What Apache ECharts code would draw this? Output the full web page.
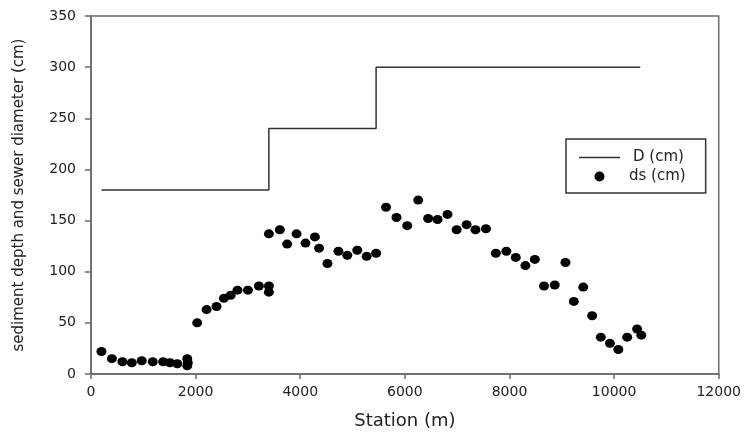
<!DOCTYPE html>
<html>
<head>
<meta charset="utf-8">
<script src="https://cdn.jsdelivr.net/npm/echarts@6/dist/echarts.min.js"></script>
<style>html,body{margin:0;padding:0;background:#fff}#c{width:744px;height:435px}</style>
</head>
<body>
<div id="c"></div>
<script>
// Sewer diameter D (step line)
var dStations = [200, 3400, 3400, 5450, 5450, 10500];
var dValues   = [180, 180, 240, 240, 300, 300];

// Sediment depth ds (points)
var dsStations = [200, 400, 600, 780, 970, 1180, 1380, 1510, 1650, 1840, 1850, 1840,
  2030, 2210, 2400, 2540, 2670, 2800, 3000, 3210, 3400, 3400, 3400,
  3610, 3750, 3930, 4100, 4280, 4360, 4520, 4730, 4900, 5090, 5270, 5450,
  5640, 5840, 6045, 6255, 6445, 6625, 6815, 6990, 7180, 7350, 7550,
  7740, 7940, 8120, 8305, 8485, 8660, 8865, 9070, 9230, 9410, 9580,
  9745, 9920, 10080, 10250, 10440, 10520];
var dsValues = [22, 15, 12, 11, 13, 12, 12, 11, 10, 15, 11, 8,
  50, 63, 66, 74, 77, 82, 82, 86, 86, 80, 137,
  141, 127, 137, 128, 134, 123, 108, 120, 116, 121, 115, 118,
  163, 153, 145, 170, 152, 151, 156, 141, 146, 141, 142,
  118, 120, 114, 106, 112, 86, 87, 109, 71, 85, 57,
  36, 30, 24, 36, 44, 38];

var xTicks = [0, 2000, 4000, 6000, 8000, 10000, 12000];
var yTicks = [0, 50, 100, 150, 200, 250, 300, 350];

var seriesNames = ['D (cm)', 'ds (cm)'];
var xTitle = 'Station (m)';
var yTitle = 'sediment depth and sewer diameter (cm)';

function zip(a, b) { return a.map(function (v, i) { return [v, b[i]]; }); }

var FONT = 'DejaVu Sans';
var axisCol = '#6a6a6a';

var chart = echarts.init(document.getElementById('c'), null, { renderer: 'canvas' });
chart.setOption({
  animation: false,
  backgroundColor: '#fff',
  grid: { left: 91, right: 25, top: 16, bottom: 61, show: true, borderColor: axisCol, borderWidth: 1.5 },
  xAxis: {
    type: 'value', min: xTicks[0], max: xTicks[xTicks.length - 1], interval: 2000,
    name: xTitle, nameLocation: 'middle', nameGap: 38,
    nameTextStyle: { fontFamily: FONT, fontSize: 18, color: '#222' },
    axisLine: { show: true, lineStyle: { color: axisCol, width: 1.5 } },
    axisTick: { show: true, inside: false, length: 5, lineStyle: { color: axisCol, width: 1.5 } },
    axisLabel: { fontFamily: FONT, fontSize: 14, color: '#222', margin: 11, showMinLabel: true, showMaxLabel: true,
      formatter: function (v) { return String(v); } },
    splitLine: { show: false }
  },
  yAxis: {
    type: 'value', min: yTicks[0], max: yTicks[yTicks.length - 1], interval: 50,
    name: yTitle, nameLocation: 'middle', nameGap: 64, nameRotate: 90,
    nameTextStyle: { fontFamily: FONT, fontSize: 15, color: '#222' },
    axisLine: { show: true, lineStyle: { color: axisCol, width: 1.5 } },
    axisTick: { show: true, inside: false, length: 6, lineStyle: { color: axisCol, width: 1.5 } },
    axisLabel: { fontFamily: FONT, fontSize: 14, color: '#222', margin: 15,
      formatter: function (v) { return String(v); } },
    splitLine: { show: false }
  },
  legend: {
    orient: 'vertical', left: 566, top: 139,
    padding: [11, 20, 9, 13], itemGap: 4,
    itemWidth: 41, itemHeight: 10,
    backgroundColor: '#fff', borderColor: '#333', borderWidth: 1.5,
    textStyle: { fontFamily: FONT, fontSize: 15, color: '#222' },
    data: [
      { name: seriesNames[0], icon: 'path://M0,0h40v1.5h-40z', textStyle: { padding: [0, 0, 0, 8] } },
      { name: seriesNames[1], icon: 'circle', textStyle: { padding: [0, 0, 0, 4] } }
    ]
  },
  series: [
    {
      name: seriesNames[0], type: 'line', data: zip(dStations, dValues),
      showSymbol: false, symbol: 'none',
      lineStyle: { color: '#333', width: 1.5 }, itemStyle: { color: '#333' }
    },
    {
      name: seriesNames[1], type: 'scatter', data: zip(dsStations, dsValues),
      symbol: 'circle', symbolSize: [10, 9],
      itemStyle: { color: '#000', opacity: 1 }
    }
  ]
});
</script>
</body>
</html>
